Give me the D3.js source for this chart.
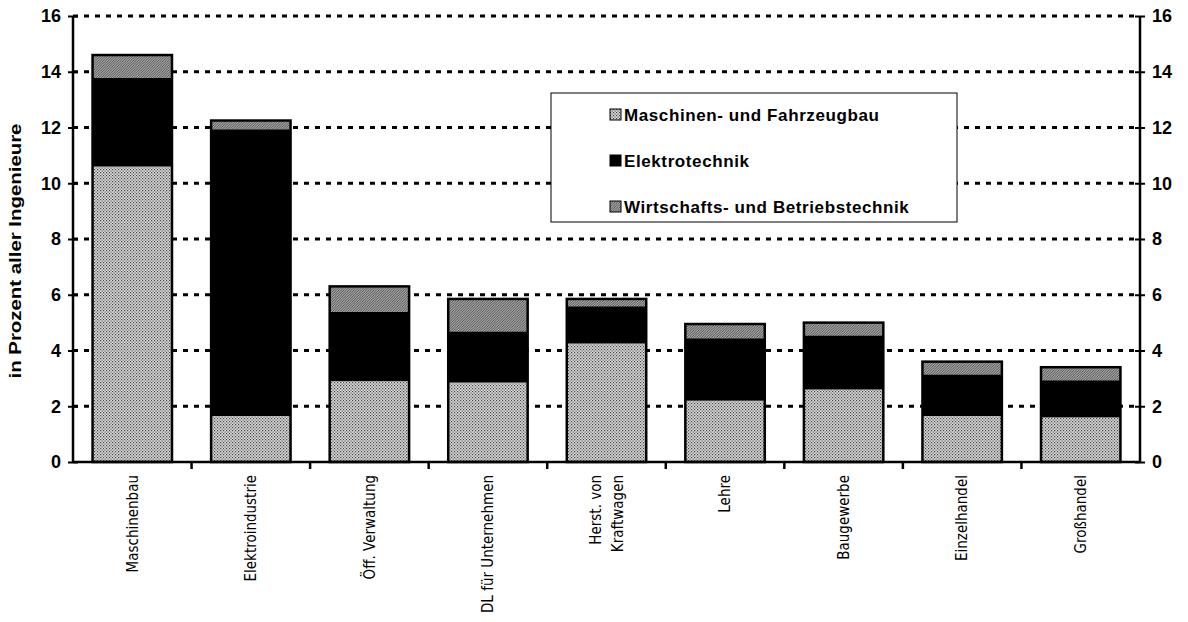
<!DOCTYPE html>
<html>
<head>
<meta charset="utf-8">
<script src="https://cdn.jsdelivr.net/npm/d3@7"></script>
<style>
  body { margin: 0; background: #fff; }
  svg { display: block; }
</style>
</head>
<body>
<svg id="chart" width="1188" height="622"></svg>
<script>
// Anteile je Branche (in Prozent aller Ingenieure)
const categories = ["Maschinenbau", "Elektroindustrie", "Öff. Verwaltung", "DL für Unternehmen",
  "Herst. von Kraftwagen", "Lehre", "Baugewerbe", "Einzelhandel", "Großhandel"];
const seriesNames = ["Maschinen- und Fahrzeugbau", "Elektrotechnik", "Wirtschafts- und Betriebstechnik"];
const maschinenbau = [10.6, 1.65, 2.9, 2.85, 4.25, 2.2, 2.6, 1.65, 1.6];
const elektrotechnik = [3.15, 10.25, 2.45, 1.8, 1.3, 2.2, 1.9, 1.45, 1.3];
const wirtschaft = [0.85, 0.35, 0.95, 1.2, 0.3, 0.55, 0.5, 0.5, 0.5];
const yTicks = [0, 2, 4, 6, 8, 10, 12, 14, 16];

const svg = d3.select("svg#chart");
const margin = { top: 16, right: 48, bottom: 160, left: 73 };
const width = +svg.attr("width");
const height = +svg.attr("height");
const chartWidth = width - margin.left - margin.right;
const chartHeight = height - margin.top - margin.bottom;

// patterns for the three series
const defs = svg.append("defs");
const dots = defs.append("pattern").attr("id", "dots")
  .attr("width", 3).attr("height", 3).attr("patternUnits", "userSpaceOnUse");
dots.append("rect").attr("width", 3).attr("height", 3).attr("fill", "#dadada");
dots.append("rect").attr("x", 0).attr("y", 0).attr("width", 1.2).attr("height", 1.2).attr("fill", "#444");
dots.append("rect").attr("x", 1.5).attr("y", 1.5).attr("width", 1.2).attr("height", 1.2).attr("fill", "#555");

const hatch = defs.append("pattern").attr("id", "hatch")
  .attr("width", 2.5).attr("height", 2.5).attr("patternUnits", "userSpaceOnUse");
hatch.append("rect").attr("width", 2.5).attr("height", 2.5).attr("fill", "#a8a8a8");
hatch.append("path").attr("d", "M-1,1 l2,-2 M0,2.5 l2.5,-2.5 M1.5,3.5 l2,-2")
  .attr("stroke", "#3a3a3a").attr("stroke-width", 0.8);

const fills = ["url(#dots)", "#000", "url(#hatch)"];

const data = categories.map((c, i) => ({
  cat: c,
  [seriesNames[0]]: maschinenbau[i],
  [seriesNames[1]]: elektrotechnik[i],
  [seriesNames[2]]: wirtschaft[i]
}));
const stacked = d3.stack().keys(seriesNames)(data);

const x = d3.scaleBand().domain(categories).range([0, chartWidth]).paddingInner(0.33).paddingOuter(0.165);
const xTick = d3.scaleLinear().domain([0, categories.length]).range([0, chartWidth]);
const y = d3.scaleLinear().domain([0, 16]).range([chartHeight, 0]);

const g = svg.append("g").attr("transform", `translate(${margin.left},${margin.top})`);

// dotted gridlines
g.append("g").selectAll("line")
  .data(yTicks.filter(d => d > 0))
  .join("line")
  .attr("x1", 0).attr("x2", chartWidth)
  .attr("y1", d => y(d)).attr("y2", d => y(d))
  .attr("stroke", "#000")
  .attr("stroke-width", 3)
  .attr("stroke-dasharray", "5,6");

// bars
g.append("g").selectAll("g")
  .data(stacked)
  .join("g")
  .attr("fill", (d, i) => fills[i])
  .selectAll("rect")
  .data(d => d)
  .join("rect")
  .attr("x", d => x(d.data.cat))
  .attr("y", d => y(d[1]))
  .attr("width", x.bandwidth())
  .attr("height", d => y(d[0]) - y(d[1]));

// outline of each bar
g.append("g").selectAll("rect")
  .data(stacked[stacked.length - 1])
  .join("rect")
  .attr("x", d => x(d.data.cat))
  .attr("y", d => y(d[1]))
  .attr("width", x.bandwidth())
  .attr("height", d => y(0) - y(d[1]))
  .attr("fill", "none")
  .attr("stroke", "#000")
  .attr("stroke-width", 2.5);

// black border between Elektro and top segment
g.append("g").selectAll("line")
  .data(stacked[1])
  .join("line")
  .attr("x1", d => x(d.data.cat)).attr("x2", d => x(d.data.cat) + x.bandwidth())
  .attr("y1", d => y(d[1])).attr("y2", d => y(d[1]))
  .attr("stroke", "#000").attr("stroke-width", 1.5);

// axes
const tickFont = "bold 18px 'Liberation Sans', Arial, sans-serif";
const leftAxis = g.append("g")
  .call(d3.axisLeft(y).tickValues(yTicks).tickSize(5).tickPadding(7));
const rightAxis = g.append("g").attr("transform", `translate(${chartWidth},0)`)
  .call(d3.axisRight(y).tickValues(yTicks).tickSize(5).tickPadding(7));
[leftAxis, rightAxis].forEach(a => {
  a.select(".domain").attr("stroke-width", 2.5).attr("d", `M0,0V${chartHeight}`);
  a.selectAll(".tick line").attr("stroke-width", 2);
  a.selectAll(".tick text").style("font", tickFont).attr("fill", "#000");
});
// ticks crossing the axis
leftAxis.selectAll(".tick line").attr("x1", 5);
rightAxis.selectAll(".tick line").attr("x1", -5);

// x axis line
g.append("line")
  .attr("x1", 0).attr("x2", chartWidth)
  .attr("y1", chartHeight).attr("y2", chartHeight)
  .attr("stroke", "#000").attr("stroke-width", 2.5);
g.append("g").selectAll("line")
  .data(d3.range(1, categories.length))
  .join("line")
  .attr("x1", d => xTick(d)).attr("x2", d => xTick(d))
  .attr("y1", chartHeight).attr("y2", chartHeight + 7)
  .attr("stroke", "#000").attr("stroke-width", 2.5);

// x labels rotated
const xl = g.append("g").selectAll("text")
  .data(categories)
  .join("text")
  .attr("transform", d => `translate(${x(d) + x.bandwidth() / 2},${chartHeight + 13}) rotate(-90)`)
  .attr("text-anchor", "end")
  .style("font", "15px 'DejaVu Sans Condensed', 'Liberation Sans Narrow', sans-serif")
  .attr("fill", "#000");
xl.each(function (d) {
  const parts = d === "Herst. von Kraftwagen" ? ["Herst. von", "Kraftwagen"] : [d];
  const t = d3.select(this);
  parts.forEach((p, j) => {
    t.append("tspan")
      .attr("x", 0)
      .attr("dy", j === 0 ? (parts.length > 1 ? "-0.4em" : "0.35em") : "1.5em")
      .text(p);
  });
});

// y axis title
svg.append("text")
  .attr("transform", `translate(21,${margin.top + chartHeight / 2 + 12}) rotate(-90) scale(1.2,1)`)
  .attr("text-anchor", "middle")
  .style("font", "bold 17px 'Liberation Sans', Arial, sans-serif")
  .text("in Prozent aller Ingenieure");

// legend
const legend = svg.append("g").attr("transform", "translate(551,93)");
legend.append("rect")
  .attr("width", 406).attr("height", 129)
  .attr("fill", "#fff").attr("stroke", "#000").attr("stroke-width", 1);
const items = legend.selectAll("g.item")
  .data(seriesNames)
  .join("g")
  .attr("class", "item")
  .attr("transform", (d, i) => `translate(59,${22 + i * 46})`);
items.append("rect")
  .attr("x", 0).attr("y", -6).attr("width", 11).attr("height", 11)
  .attr("fill", (d, i) => fills[i])
  .attr("stroke", "#000").attr("stroke-width", 1);
items.append("text")
  .attr("x", 14).attr("y", 0).attr("dy", "0.35em")
  .style("font", "bold 17px 'Liberation Sans', Arial, sans-serif")
  .style("letter-spacing", "0.6px")
  .text(d => d);
</script>
</body>
</html>
